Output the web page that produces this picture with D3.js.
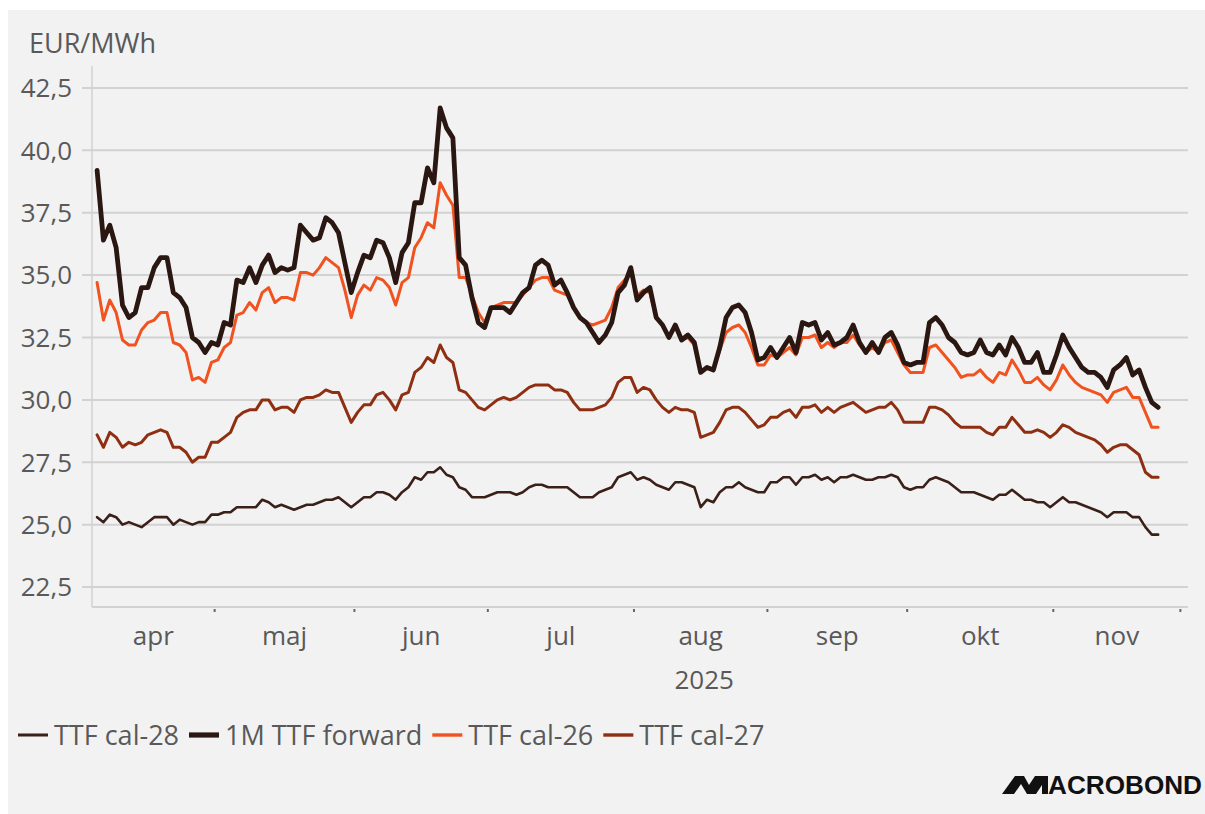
<!DOCTYPE html>
<html>
<head>
<meta charset="utf-8">
<script src="https://cdn.jsdelivr.net/npm/d3@7"></script>
<style>
  html, body { margin: 0; padding: 0; background: #ffffff; }
  svg { display: block; font-family: "Open Sans", "Noto Sans", sans-serif; }
</style>
</head>
<body>
<svg id="chart" width="1205" height="814"></svg>
<script>
// ---- data: daily (trading-day) prices, EUR/MWh ----
const startDate = "2025-04-04";
const unitLabel = "EUR/MWh";
const yearLabel = "2025";
const monthLabels = ["apr", "maj", "jun", "jul", "aug", "sep", "okt", "nov"];
const yTicks = [22.5, 25.0, 27.5, 30.0, 32.5, 35.0, 37.5, 40.0, 42.5];
const seriesNames = ["TTF cal-28", "1M TTF forward", "TTF cal-26", "TTF cal-27"];
const seriesColors = ["#3a2018", "#2a1711", "#f0531f", "#8e2f12"];

const cal28 = [
  25.3, 25.1, 25.4, 25.3, 25.0, 25.1, 25.0, 24.9, 25.1, 25.3,
  25.3, 25.3, 25.0, 25.2, 25.1, 25.0, 25.1, 25.1, 25.4, 25.4,
  25.5, 25.5, 25.7, 25.7, 25.7, 25.7, 26.0, 25.9, 25.7, 25.8,
  25.7, 25.6, 25.7, 25.8, 25.8, 25.9, 26.0, 26.0, 26.1, 25.9,
  25.7, 25.9, 26.1, 26.1, 26.3, 26.3, 26.2, 26.0, 26.3, 26.5,
  26.9, 26.8, 27.1, 27.1, 27.3, 27.0, 26.9, 26.5, 26.4, 26.1,
  26.1, 26.1, 26.2, 26.3, 26.3, 26.3, 26.2, 26.3, 26.5, 26.6,
  26.6, 26.5, 26.5, 26.5, 26.5, 26.3, 26.1, 26.1, 26.1, 26.3,
  26.4, 26.5, 26.9, 27.0, 27.1, 26.8, 26.9, 26.8, 26.6, 26.5,
  26.4, 26.7, 26.7, 26.6, 26.5, 25.7, 26.0, 25.9, 26.3, 26.5,
  26.5, 26.7, 26.5, 26.4, 26.3, 26.3, 26.7, 26.7, 26.9, 26.9,
  26.6, 26.9, 26.9, 27.0, 26.8, 26.9, 26.7, 26.9, 26.9, 27.0,
  26.9, 26.8, 26.8, 26.9, 26.9, 27.0, 26.9, 26.5, 26.4, 26.5,
  26.5, 26.8, 26.9, 26.8, 26.7, 26.5, 26.3, 26.3, 26.3, 26.2,
  26.1, 26.0, 26.2, 26.2, 26.4, 26.2, 26.0, 26.0, 25.9, 25.9,
  25.7, 25.9, 26.1, 25.9, 25.9, 25.8, 25.7, 25.6, 25.5, 25.3,
  25.5, 25.5, 25.5, 25.3, 25.3, 24.9, 24.6, 24.6
];

const fwd1m = [
  39.2, 36.4, 37.0, 36.1, 33.8, 33.3, 33.5, 34.5, 34.5, 35.3,
  35.7, 35.7, 34.3, 34.1, 33.7, 32.5, 32.3, 31.9, 32.3, 32.2,
  33.1, 33.0, 34.8, 34.7, 35.3, 34.7, 35.4, 35.8, 35.1, 35.3,
  35.2, 35.3, 37.0, 36.7, 36.4, 36.5, 37.3, 37.1, 36.7, 35.5,
  34.3, 35.1, 35.8, 35.7, 36.4, 36.3, 35.7, 34.7, 35.9, 36.3,
  37.9, 37.9, 39.3, 38.7, 41.7, 40.9, 40.5, 35.7, 35.4, 34.1,
  33.1, 32.9, 33.7, 33.7, 33.7, 33.5, 33.9, 34.3, 34.5, 35.4,
  35.6, 35.4, 34.6, 34.8, 34.3, 33.7, 33.3, 33.1, 32.7, 32.3,
  32.6, 33.1, 34.3, 34.6, 35.3, 34.0, 34.3, 34.5, 33.3, 33.0,
  32.5, 33.0, 32.4, 32.6, 32.3, 31.1, 31.3, 31.2, 32.1, 33.3,
  33.7, 33.8, 33.5, 32.7, 31.6, 31.7, 32.1, 31.7, 32.1, 32.5,
  31.9, 33.1, 33.0, 33.1, 32.4, 32.7, 32.2, 32.3, 32.5, 33.0,
  32.3, 31.9, 32.3, 31.9, 32.5, 32.7, 32.2, 31.5, 31.4, 31.5,
  31.5, 33.1, 33.3, 33.0, 32.5, 32.3, 31.9, 31.8, 31.9, 32.4,
  31.9, 31.8, 32.2, 31.8, 32.5, 32.1, 31.5, 31.5, 31.9, 31.1,
  31.1, 31.8, 32.6, 32.1, 31.7, 31.3, 31.1, 31.1, 30.9, 30.5,
  31.2, 31.4, 31.7, 31.0, 31.2, 30.5, 29.9, 29.7
];

const cal26 = [
  34.7, 33.2, 34.0, 33.5, 32.4, 32.2, 32.2, 32.8, 33.1, 33.2,
  33.5, 33.5, 32.3, 32.2, 31.9, 30.8, 30.9, 30.7, 31.5, 31.6,
  32.1, 32.3, 33.4, 33.5, 33.9, 33.6, 34.3, 34.5, 33.9, 34.1,
  34.1, 34.0, 35.1, 35.1, 35.0, 35.3, 35.7, 35.5, 35.3, 34.4,
  33.3, 34.2, 34.6, 34.4, 34.9, 34.8, 34.5, 33.8, 34.7, 34.9,
  36.1, 36.5, 37.1, 36.9, 38.7, 38.2, 37.8, 34.9, 34.9, 34.2,
  33.5, 33.1, 33.7, 33.8, 33.9, 33.9, 33.9, 34.2, 34.5, 34.8,
  34.9, 34.9, 34.4, 34.3, 34.2, 33.7, 33.3, 33.1, 33.0, 33.1,
  33.2, 33.7, 34.5, 34.8, 35.1, 34.2, 34.4, 34.3, 33.3, 33.0,
  32.5, 33.0, 32.4, 32.5, 32.2, 31.1, 31.3, 31.2, 32.0, 32.7,
  32.9, 33.0, 32.7, 32.1, 31.4, 31.4, 31.8, 31.7, 31.9, 32.1,
  31.8, 32.5, 32.5, 32.6, 32.1, 32.3, 32.1, 32.3, 32.3, 32.6,
  32.2, 31.9, 32.1, 31.9, 32.3, 32.4, 31.9, 31.4, 31.1, 31.1,
  31.1, 32.1, 32.2, 31.9, 31.6, 31.3, 30.9, 31.0, 31.0, 31.2,
  30.9, 30.7, 31.1, 31.0, 31.6, 31.2, 30.7, 30.7, 30.9, 30.6,
  30.4, 30.8, 31.4, 31.0, 30.7, 30.5, 30.4, 30.3, 30.2, 29.9,
  30.3, 30.4, 30.5, 30.1, 30.1, 29.5, 28.9, 28.9
];

const cal27 = [
  28.6, 28.1, 28.7, 28.5, 28.1, 28.3, 28.2, 28.3, 28.6, 28.7,
  28.8, 28.7, 28.1, 28.1, 27.9, 27.5, 27.7, 27.7, 28.3, 28.3,
  28.5, 28.7, 29.3, 29.5, 29.6, 29.6, 30.0, 30.0, 29.6, 29.7,
  29.7, 29.5, 30.0, 30.1, 30.1, 30.2, 30.4, 30.3, 30.3, 29.7,
  29.1, 29.5, 29.8, 29.8, 30.2, 30.3, 30.0, 29.6, 30.2, 30.3,
  31.1, 31.3, 31.7, 31.5, 32.2, 31.7, 31.5, 30.4, 30.3, 30.0,
  29.7, 29.6, 29.8, 30.0, 30.1, 30.0, 30.1, 30.3, 30.5, 30.6,
  30.6, 30.6, 30.4, 30.4, 30.3, 29.9, 29.6, 29.6, 29.6, 29.7,
  29.8, 30.1, 30.7, 30.9, 30.9, 30.3, 30.5, 30.4, 30.0, 29.7,
  29.5, 29.7, 29.6, 29.6, 29.5, 28.5, 28.6, 28.7, 29.1, 29.6,
  29.7, 29.7, 29.5, 29.2, 28.9, 29.0, 29.3, 29.3, 29.5, 29.6,
  29.3, 29.7, 29.7, 29.8, 29.5, 29.7, 29.5, 29.7, 29.8, 29.9,
  29.7, 29.5, 29.6, 29.7, 29.7, 29.9, 29.6, 29.1, 29.1, 29.1,
  29.1, 29.7, 29.7, 29.6, 29.4, 29.1, 28.9, 28.9, 28.9, 28.9,
  28.7, 28.6, 28.9, 28.9, 29.3, 29.0, 28.7, 28.7, 28.8, 28.7,
  28.5, 28.7, 29.0, 28.9, 28.7, 28.6, 28.5, 28.4, 28.2, 27.9,
  28.1, 28.2, 28.2, 28.0, 27.8, 27.1, 26.9, 26.9
];

// ---- layout ----
const W = 1205, H = 814;
const plot = { left: 92, right: 1188, top: 66, bottom: 607 };
const textColor = "#595959";
const gridColor = "#d2d2d2";

const svg = d3.select("#chart");

// page backdrop
svg.append("rect").attr("x", 0).attr("y", 0).attr("width", W).attr("height", H).attr("fill", "#ffffff");
svg.append("rect").attr("x", 8).attr("y", 10).attr("width", W - 8).attr("height", H - 10).attr("fill", "#f2f2f2");

// trading-day calendar (weekdays) used as the x axis
const parse = d3.utcParse("%Y-%m-%d");
const calendar = d3.utcDay.range(parse(startDate), parse("2025-12-10"))
  .filter(d => d.getUTCDay() !== 0 && d.getUTCDay() !== 6);

const x = d3.scaleLinear().domain([-0.8, 171.7]).range([plot.left, plot.right]);
const y = d3.scaleLinear().domain([21.7, 43.38]).range([plot.bottom, plot.top]);

const locale = d3.formatLocale({ decimal: ",", thousands: ".", grouping: [3], currency: ["", " €"] });
const fmt = locale.format(".1f");

// horizontal grid + y tick marks
const gy = svg.append("g");
gy.selectAll("line.grid").data(yTicks).join("line")
  .attr("class", "grid")
  .attr("x1", plot.left - 10).attr("x2", plot.right)
  .attr("y1", d => y(d)).attr("y2", d => y(d))
  .attr("stroke", gridColor).attr("stroke-width", 2);
gy.selectAll("text").data(yTicks).join("text")
  .attr("x", plot.left - 20).attr("y", d => y(d))
  .attr("dy", "0.36em")
  .attr("text-anchor", "end")
  .attr("fill", textColor)
  .attr("font-size", 26)
  .text(d => fmt(d));

// axis frame: left and bottom
svg.append("line")
  .attr("x1", plot.left).attr("x2", plot.left)
  .attr("y1", plot.top).attr("y2", plot.bottom)
  .attr("stroke", gridColor).attr("stroke-width", 1.5);
svg.append("line")
  .attr("x1", plot.left).attr("x2", plot.right)
  .attr("y1", plot.bottom).attr("y2", plot.bottom)
  .attr("stroke", gridColor).attr("stroke-width", 2);

// month boundaries on the trading-day index
const boundaries = [];
for (let i = 1; i < calendar.length; i++) {
  if (calendar[i].getUTCMonth() !== calendar[i - 1].getUTCMonth()) boundaries.push(i - 0.5);
}
const monthEdges = boundaries.filter(b => b <= x.domain()[1]);
svg.append("g").selectAll("line").data(monthEdges).join("line")
  .attr("x1", d => x(d)).attr("x2", d => x(d))
  .attr("y1", plot.bottom + 2).attr("y2", plot.bottom + 5)
  .attr("stroke", "#666666").attr("stroke-width", 2);

const segStarts = [x.domain()[0]].concat(monthEdges);
svg.append("g").selectAll("text").data(monthLabels).join("text")
  .attr("x", (d, i) => (x(segStarts[i]) + x(segStarts[i + 1])) / 2)
  .attr("y", 645)
  .attr("text-anchor", "middle")
  .attr("fill", textColor)
  .attr("font-size", 26)
  .text(d => d);

svg.append("text")
  .attr("x", (x(x.domain()[0]) + x(monthEdges[monthEdges.length - 1])) / 2 + 68)
  .attr("y", 689)
  .attr("text-anchor", "middle")
  .attr("fill", textColor)
  .attr("font-size", 26)
  .text(yearLabel);

svg.append("text")
  .attr("x", 29).attr("y", 53)
  .attr("fill", textColor)
  .attr("font-size", 27)
  .text(unitLabel);

// series lines
const line = d3.line().x((d, i) => x(i)).y(d => y(d)).curve(d3.curveLinear);
const series = [
  { name: seriesNames[0], values: cal28, color: seriesColors[0], width: 2.6 },
  { name: seriesNames[1], values: fwd1m, color: seriesColors[1], width: 4.8 },
  { name: seriesNames[2], values: cal26, color: seriesColors[2], width: 3 },
  { name: seriesNames[3], values: cal27, color: seriesColors[3], width: 3 }
];
const drawOrder = [0, 3, 2, 1];
svg.append("g").selectAll("path").data(drawOrder.map(k => series[k])).join("path")
  .attr("d", s => line(s.values))
  .attr("fill", "none")
  .attr("stroke", s => s.color)
  .attr("stroke-width", s => s.width)
  .attr("stroke-linejoin", "round")
  .attr("stroke-linecap", "round");

// legend
const legend = svg.append("g").attr("transform", "translate(18,735)");
let lx = 0;
series.forEach(s => {
  legend.append("line")
    .attr("x1", lx).attr("x2", lx + 30).attr("y1", 0).attr("y2", 0)
    .attr("stroke", s.color).attr("stroke-width", s.width + 0.4);
  const t = legend.append("text")
    .attr("x", lx + 36).attr("y", 0).attr("dy", "0.36em")
    .attr("fill", textColor)
    .attr("font-size", 27)
    .text(s.name);
  lx += 36 + t.node().getComputedTextLength() + 10;
});

// brand mark
const logo = svg.append("g").attr("transform", "translate(1002,794)");
logo.append("path")
  .attr("d", "M0,0 L13,-18 L22,-18 L27,-9 L33,-18 L46,-18 L46,0 L40,0 L40,-9 L34,0 L25,0 L19,-10 L12,0 Z")
  .attr("fill", "#111111");
logo.append("text")
  .attr("x", 46).attr("y", 0)
  .attr("font-family", "'Liberation Sans', Arial, sans-serif")
  .attr("font-weight", "bold")
  .attr("font-size", 25)
  .attr("textLength", 154)
  .attr("lengthAdjust", "spacingAndGlyphs")
  .attr("fill", "#111111")
  .text("ACROBOND");
</script>
</body>
</html>
